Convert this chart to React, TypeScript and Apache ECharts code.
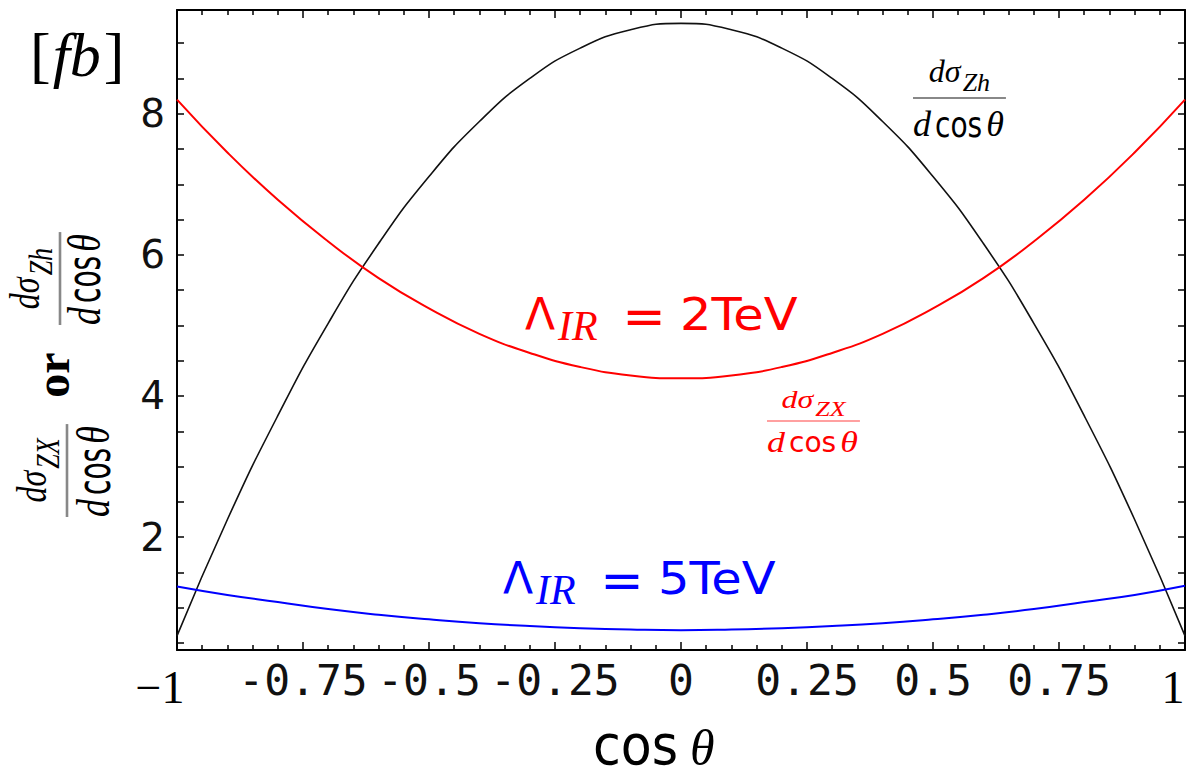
import React, { useEffect, useRef } from 'react';
import * as echarts from 'echarts';

// cos(theta) sample points
const COS = [-1, -0.9, -0.8, -0.7, -0.6, -0.5, -0.4, -0.3, -0.2, -0.1, 0, 0.1, 0.2, 0.3, 0.4, 0.5, 0.6, 0.7, 0.8, 0.9, 1];
// d sigma_Zh / d cos theta (black)
const ZH = [0.6, 2.25, 3.72, 5.03, 6.16, 7.11, 7.89, 8.5, 8.93, 9.19, 9.28, 9.19, 8.93, 8.5, 7.89, 7.11, 6.16, 5.03, 3.72, 2.25, 0.6];
// d sigma_ZX / d cos theta, Lambda_IR = 2 TeV (red)
const ZX_2TEV = [8.2, 7.45, 6.78, 6.19, 5.67, 5.24, 4.88, 4.61, 4.41, 4.29, 4.25, 4.29, 4.41, 4.61, 4.88, 5.24, 5.67, 6.19, 6.78, 7.45, 8.2];
// d sigma_ZX / d cos theta, Lambda_IR = 5 TeV (blue)
const ZX_5TEV = [1.3, 1.18, 1.08, 0.98, 0.9, 0.835, 0.78, 0.74, 0.71, 0.69, 0.68, 0.69, 0.71, 0.74, 0.78, 0.835, 0.9, 0.98, 1.08, 1.18, 1.31];

const Y_LABELS = [2, 4, 6, 8];
const Y_TICKS = [0.5, 1, 1.5, 2, 2.5, 3, 3.5, 4, 4.5, 5, 5.5, 6, 6.5, 7, 7.5, 8, 8.5, 9];

const SERIF = "'Liberation Serif', 'DejaVu Serif', serif";
const SANS = "'DejaVu Sans', sans-serif";
const MONO = "'DejaVu Sans Mono', monospace";

let mctx: CanvasRenderingContext2D | null = null;
function tw(text: string, font: string): number {
  if (!mctx) mctx = document.createElement('canvas').getContext('2d');
  mctx!.font = font;
  return mctx!.measureText(text).width;
}

function txt(text: string, x: number, baseline: number, size: number, family: string, color: string, o: any = {}) {
  return {
    type: 'text',
    x,
    y: baseline - 0.35 * size,
    scaleX: o.scaleX ?? 1,
    rotation: o.rotation ?? 0,
    silent: true,
    style: {
      text,
      fill: color,
      fontSize: size,
      fontFamily: family,
      fontStyle: o.italic ? 'italic' : 'normal',
      fontWeight: o.bold ? 'bold' : 'normal',
      align: o.align || 'left',
      verticalAlign: 'middle',
    },
  };
}

function fraction(sub: string, color: string, barColor: string, gx: number, gy: number, rotation: number, sx: number, sy: number, denBase: number) {
  const NUM = 32, SUBS = 26, DEN = 36, COSS = 0.78;
  const fI = (s: number) => `italic ${s}px ${SERIF}`;
  const wd = tw('d', fI(DEN));
  const wcos = tw('cos', `${DEN}px ${SANS}`) * COSS;
  const wth = tw('θ', fI(DEN));
  const W = wd + 4 + wcos + 4 + wth + 2;
  const wn = tw('dσ', fI(NUM));
  const ws = tw(sub, fI(SUBS));
  const nl = (W - (wn + 2 + ws)) / 2;
  return {
    type: 'group',
    x: gx,
    y: gy,
    rotation,
    scaleX: sx,
    scaleY: sy,
    silent: true,
    children: [
      txt('dσ', nl, -16, NUM, SERIF, color, { italic: true }),
      txt(sub, nl + wn + 2, -6, SUBS, SERIF, color, { italic: true }),
      { type: 'rect', shape: { x: 0, y: -1, width: W, height: 2 }, style: { fill: barColor } },
      txt('d', 0, denBase, DEN, SERIF, color, { italic: true }),
      txt('cos', wd + 4, denBase, DEN, SANS, color, { scaleX: COSS }),
      txt('θ', wd + 4 + wcos + 4, denBase, DEN, SERIF, color, { italic: true }),
    ],
  };
}

function lambdaLabel(color: string, dx: number, dy: number, val: string) {
  return [
    txt('Λ', 525 + dx, 330 + dy, 44, SANS, color),
    txt('IR', 558 + dx, 341 + dy, 42, SERIF, color, { italic: true }),
    { type: 'text', x: 644 + dx, y: 316 + dy, silent: true, style: { text: '=', fill: color, fontSize: 52, fontFamily: SANS, align: 'center', verticalAlign: 'middle' } },
    txt(val, 680 + dx, 330 + dy, 45, SANS, color, { scaleX: 1.1 }),
  ];
}

function buildGraphics() {
  const els: any[] = [];
  // [fb]
  const fbS = 62;
  const wb = tw('[', `${fbS}px ${SERIF}`);
  const wfb = tw('fb', `italic ${fbS}px ${SERIF}`);
  els.push(txt('[', 30, 77, fbS, SERIF, '#000'));
  els.push(txt('fb', 30 + wb + 2, 77, fbS, SERIF, '#000', { italic: true }));
  els.push(txt(']', 30 + wb + 2 + wfb + 3, 77, fbS, SERIF, '#000'));
  // y-axis title (rotated)
  els.push(fraction('ZX', '#000', '#888', 67, 517, Math.PI / 2, 1.0, 1.3, 33));
  els.push({ type: 'text', x: 52, y: 375, rotation: Math.PI / 2, silent: true, style: { text: 'or', fill: '#000', fontSize: 48, fontFamily: SERIF, fontWeight: 'bold', align: 'center', verticalAlign: 'middle' } });
  els.push(fraction('Zh', '#000', '#888', 60, 325, Math.PI / 2, 1.0, 1.3, 31));
  // top-right black label
  els.push(fraction('Zh', '#000', '#888', 913, 98, 0, 1, 1, 39));
  // red small label
  els.push(fraction('ZX', '#ff0000', '#ff8080', 767, 421, 0, 1, 0.8, 39));
  // Lambda labels
  els.push(...lambdaLabel('#ff0000', 0, 0, '2TeV'));
  els.push(...lambdaLabel('#0000ff', -22, 264, '5TeV'));
  // x-axis title
  els.push(txt('cos', 593, 764, 55, SANS, '#000', { scaleX: 0.92 }));
  els.push(txt('θ', 690, 765, 50, SERIF, '#000', { italic: true }));
  return els;
}

export default function App() {
  const ref = useRef<HTMLDivElement>(null);
  useEffect(() => {
    if (!ref.current) return;
    const chart = echarts.init(ref.current, null, { renderer: 'svg' });
    const xCommon = {
      type: 'value',
      min: -1,
      max: 1,
      interval: 0.25,
      axisLine: { show: true, onZero: false, lineStyle: { color: '#000', width: 2 } },
      axisTick: { show: true, inside: true, length: 8, lineStyle: { color: '#000', width: 1.5 } },
      minorTick: { show: true, splitNumber: 5, length: 5, lineStyle: { color: '#000', width: 1.5 } },
      splitLine: { show: false },
      minorSplitLine: { show: false },
    };
    const yCommon = {
      type: 'value',
      min: 0.4,
      max: 9.47,
      axisLine: { show: true, onZero: false, lineStyle: { color: '#000', width: 2 } },
      axisTick: { show: true, inside: true, length: 7, customValues: Y_TICKS, lineStyle: { color: '#000', width: 1.5 } },
      splitLine: { show: false },
    };
    const mk = (vals: number[], color: string, width: number) => ({
      type: 'line',
      data: COS.map((c, i) => [c, vals[i]]),
      showSymbol: false,
      smooth: true,
      lineStyle: { color, width },
      xAxisIndex: 0,
      yAxisIndex: 0,
      z: 3,
    });
    chart.setOption({
      animation: false,
      backgroundColor: '#fff',
      grid: { left: 177, right: 3, top: 10, bottom: 128, containLabel: false, outerBoundsMode: 'none' },
      xAxis: [
        {
          ...xCommon,
          position: 'bottom',
          axisLabel: {
            show: true,
            margin: 8,
            formatter: (v: number) => {
              if (Math.abs(v + 1) < 1e-9) return '{s|−1}';
              if (Math.abs(v - 1) < 1e-9) return '{e|1}';
              return '{m|' + String(Math.round(v * 100) / 100) + '}';
            },
            rich: {
              m: { fontFamily: MONO, fontSize: 43, color: '#111' },
              s: { fontFamily: SERIF, fontSize: 46, color: '#000', padding: [6, 34, 0, 0] },
              e: { fontFamily: SERIF, fontSize: 46, color: '#000', padding: [6, 24, 0, 0] },
            },
          },
        },
        { ...xCommon, position: 'top', axisLabel: { show: false } },
      ],
      yAxis: [
        {
          ...yCommon,
          position: 'left',
          axisLabel: { show: true, customValues: Y_LABELS, margin: 12, fontFamily: SANS, fontSize: 39, color: '#111' },
        },
        { ...yCommon, position: 'right', axisLabel: { show: false } },
      ],
      series: [mk(ZH, '#111', 1.6), mk(ZX_2TEV, '#ff0000', 2), mk(ZX_5TEV, '#0000ff', 2)],
      graphic: { elements: buildGraphics() },
    });
    return () => chart.dispose();
  }, []);
  return <div ref={ref} style={{ position: 'absolute', left: 0, top: 0, width: 1188, height: 778, background: '#fff' }} />;
}
